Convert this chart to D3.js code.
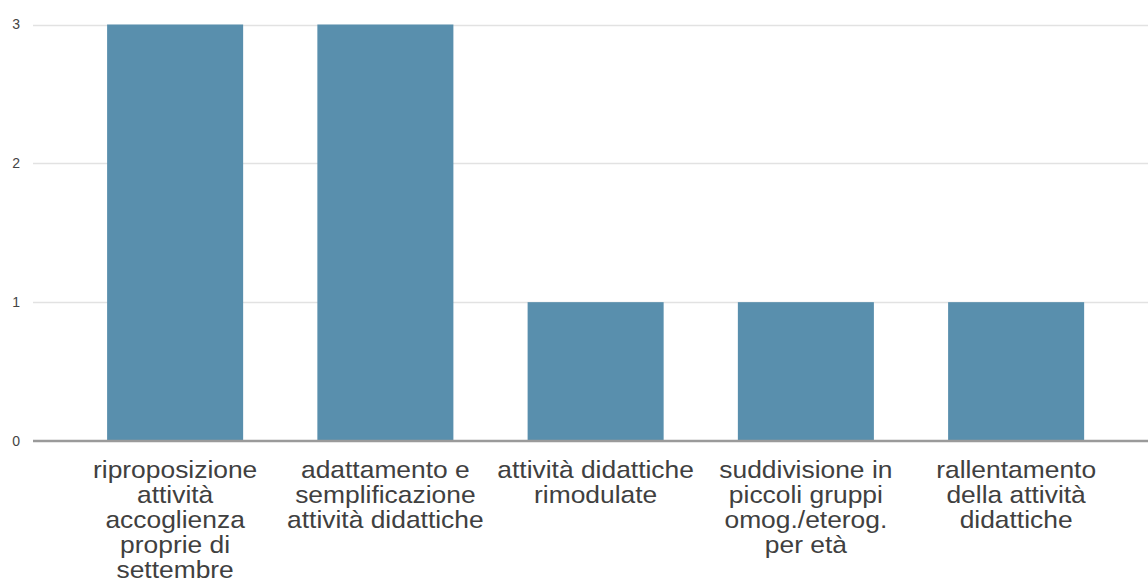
<!DOCTYPE html>
<html>
<head>
<meta charset="utf-8">
<script src="https://cdn.jsdelivr.net/npm/d3@7"></script>
<style>
  html, body { margin: 0; padding: 0; background: #ffffff; }
  svg { display: block; }
</style>
</head>
<body>
<svg id="chart" width="1148" height="588"></svg>
<script>
// Categories (wrapped into lines as they appear under each bar)
const categories = [
  "riproposizione attività accoglienza proprie di settembre",
  "adattamento e semplificazione attività didattiche",
  "attività didattiche rimodulate",
  "suddivisione in piccoli gruppi omog./eterog. per età",
  "rallentamento della attività didattiche"
];
const categoryLines = [
  ["riproposizione", "attività", "accoglienza", "proprie di", "settembre"],
  ["adattamento e", "semplificazione", "attività didattiche"],
  ["attività didattiche", "rimodulate"],
  ["suddivisione in", "piccoli gruppi", "omog./eterog.", "per età"],
  ["rallentamento", "della attività", "didattiche"]
];
const values = [3, 3, 1, 1, 1];
const yTicks = [0, 1, 2, 3];

const svg = d3.select("#chart");

const x = d3.scaleBand()
  .domain(categories)
  .range([70, 1121.25])
  .paddingInner(0.353)
  .paddingOuter(0.1765);

const y = d3.scaleLinear()
  .domain([0, 3])
  .range([441, 24.5]);

// Horizontal gridlines
svg.append("g")
  .selectAll("line")
  .data(yTicks.filter(d => d !== 0))
  .join("line")
  .attr("x1", 33)
  .attr("x2", 1148)
  .attr("y1", d => Math.round(y(d)) + 0.5)
  .attr("y2", d => Math.round(y(d)) + 0.5)
  .attr("stroke", "#e2e2e2")
  .attr("stroke-width", 1.5);

// Y tick labels
svg.append("g")
  .selectAll("text")
  .data(yTicks)
  .join("text")
  .attr("x", 20)
  .attr("y", d => y(d))
  .attr("dy", "0.35em")
  .attr("text-anchor", "end")
  .attr("font-family", "Liberation Sans, Arial, sans-serif")
  .attr("font-size", 14)
  .attr("fill", "#444")
  .text(d => d);

// Bars
svg.append("g")
  .selectAll("rect")
  .data(values)
  .join("rect")
  .attr("x", (d, i) => x(categories[i]))
  .attr("width", x.bandwidth())
  .attr("y", d => y(d))
  .attr("height", d => y(0) - y(d))
  .attr("fill", "#598fad");

// Baseline
svg.append("line")
  .attr("x1", 33)
  .attr("x2", 1148)
  .attr("y1", y(0))
  .attr("y2", y(0))
  .attr("stroke", "#9a9a9a")
  .attr("stroke-width", 2.5);

// Category labels under the bars
const labels = svg.append("g")
  .selectAll("g")
  .data(categoryLines)
  .join("g")
  .attr("transform", (d, i) => `translate(${x(categories[i]) + x.bandwidth() / 2},478) scale(1.1,1)`);

labels.selectAll("text")
  .data(d => d)
  .join("text")
  .attr("x", 0)
  .attr("y", (d, j) => j * 25)
  .attr("text-anchor", "middle")
  .attr("font-family", "Liberation Sans, Arial, sans-serif")
  .attr("font-size", 24)
  .attr("fill", "#404040")
  .text(d => d);
</script>
</body>
</html>
